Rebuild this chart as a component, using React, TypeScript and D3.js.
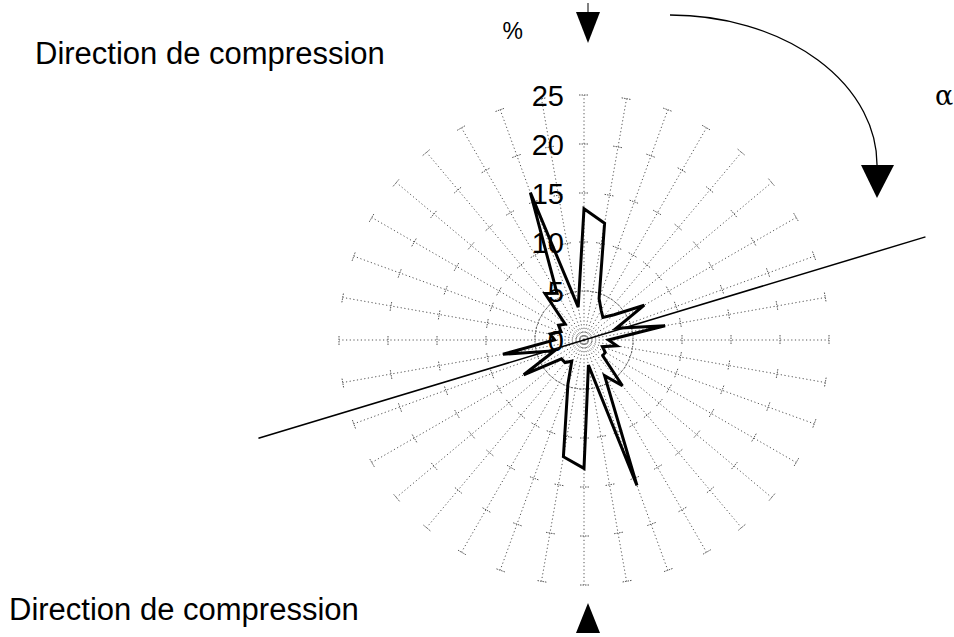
import React from "react";
import * as d3 from "d3";

// Direction categories (degrees, clockwise from the compression direction at top)
const directions = [0, 10, 20, 30, 40, 50, 60, 70, 80, 90, 100, 110, 120, 130, 140, 150, 160, 170,
  180, 190, 200, 210, 220, 230, 240, 250, 260, 270, 280, 290, 300, 310, 320, 330, 340, 350];
// Percentages per direction
const percents = [13.4, 12.1, 4.5, 3.5, 3.0, 4.0, 7.1, 3.5, 8.4, 2.5, 3.4, 2.0, 2.5, 2.5, 6.1, 4.2, 15.8, 2.6,
  13.1, 12.1, 4.8, 2.5, 3.0, 3.0, 7.1, 3.2, 8.4, 3.0, 3.5, 2.5, 3.0, 2.5, 6.2, 5.5, 16.0, 3.4];
const tickValues = [0, 5, 10, 15, 20, 25];
const tickLabels = ["0", "5", "10", "15", "20", "25"];
// Reference line (bearing in degrees, extents in % units on both sides)
const refLineBearing = 73.2;
const refLineExtent = [36.4, 34.7];

const W = 954, H = 637;
const cx = 584, cy = 340;
const R = 245;

export default function App() {
  const r = d3.scaleLinear().domain([0, 25]).range([0, R]);
  const toXY = (deg: number, v: number): [number, number] => {
    const a = (deg * Math.PI) / 180;
    return [cx + r(v) * Math.sin(a), cy - r(v) * Math.cos(a)];
  };
  const line = d3.lineRadial<number>()
    .angle((_, i) => (directions[i] * Math.PI) / 180)
    .radius((d) => r(d))
    .curve(d3.curveLinearClosed);
  const polyPath = line(percents) || "";

  const spokes = directions.map((deg) => {
    const [x2, y2] = toXY(deg, 25);
    const ticks = tickValues.slice(1).map((t) => {
      const [px, py] = toXY(deg, t);
      const a = (deg * Math.PI) / 180;
      const ux = Math.cos(a), uy = Math.sin(a);
      const h = 5;
      return <line key={t} x1={px - ux * h} y1={py - uy * h} x2={px + ux * h} y2={py + uy * h}
        stroke="#555" strokeWidth={1} strokeDasharray="1.5,1" />;
    });
    return (
      <g key={deg}>
        <line x1={cx} y1={cy} x2={x2} y2={y2} stroke="#555" strokeWidth={1} strokeDasharray="1.2,2.5" />
        {ticks}
      </g>
    );
  });

  const [lx1, ly1] = toXY(refLineBearing, refLineExtent[0]);
  const [lx2, ly2] = toXY(refLineBearing + 180, refLineExtent[1]);

  const font = "Liberation Sans, Arial, Helvetica, sans-serif";

  return (
    <svg width={W} height={H} style={{ position: "absolute", left: 0, top: 0, background: "#fff" }}
      fontFamily={font}>
      <rect width={W} height={H} fill="#fff" />
      {spokes}
      <line x1={lx1} y1={ly1} x2={lx2} y2={ly2} stroke="#000" strokeWidth={1.5} />
      <path d={polyPath} transform={`translate(${cx},${cy})`} fill="none" stroke="#000" strokeWidth={3}
        strokeLinejoin="miter" strokeMiterlimit={4} />
      {tickValues.map((t, i) => (
        <text key={t} x={cx - 20} y={cy - r(t) + 1} textAnchor="end" dominantBaseline="central" fontSize={29}>
          {tickLabels[i]}
        </text>
      ))}
      <text x={523} y={39} textAnchor="end" fontSize={23}>%</text>
      {/* top arrow */}
      <line x1={588} y1={3} x2={588} y2={14} stroke="#000" strokeWidth={1} />
      <path d="M576,12 L600,12 L588,43 Z" fill="#000" />
      {/* bottom arrow */}
      <path d="M588,603 L600,633 L576,633 Z" fill="#000" />
      {/* rotation arrow */}
      <path d="M670,15 A207,150 0 0 1 877,168" fill="none" stroke="#000" strokeWidth={1.3} />
      <path d="M861,165 L894,165 L877,198 Z" fill="#000" />
      <text x={935} y={105} fontSize={27} fontFamily="DejaVu Serif, serif">α</text>
      <text x={35} y={64} fontSize={31}>Direction de compression</text>
      <text x={9} y={620} fontSize={31}>Direction de compression</text>
    </svg>
  );
}
